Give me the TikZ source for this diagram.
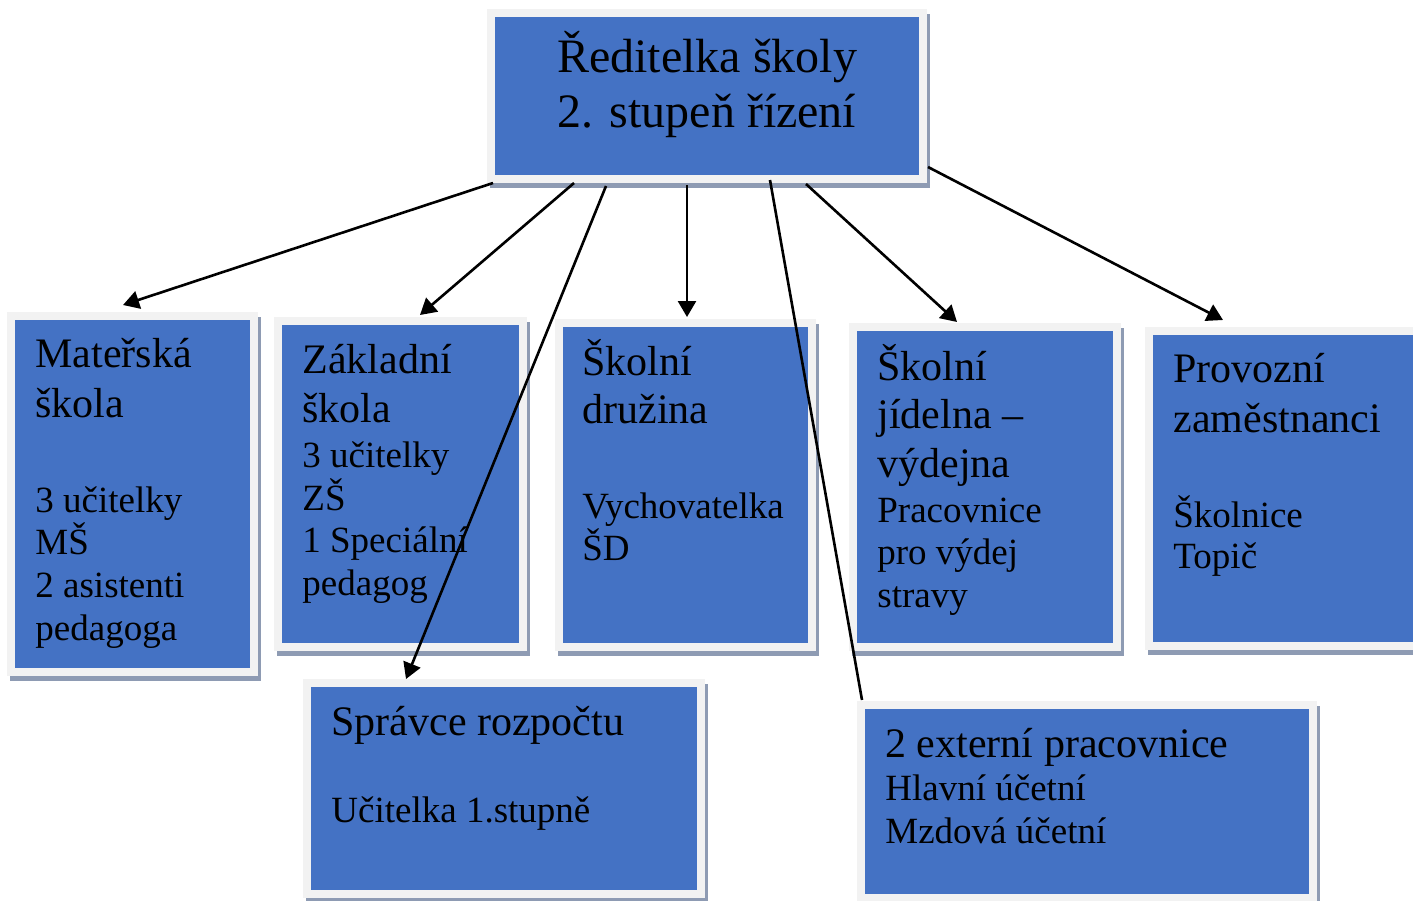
\documentclass[tikz,border=0pt]{standalone}
\usepackage{fontspec}
\setmainfont{Liberation Serif}
\usetikzlibrary{calc,arrows.meta,shadows}
\definecolor{boxblue}{HTML}{4472C4}
\definecolor{framegray}{HTML}{F2F2F2}
\definecolor{shadowgray}{HTML}{8E9BB3}
\newcommand\sm[1]{{\fontsize{18.5pt}{21.5pt}\selectfont #1}}
\begin{document}
\begin{tikzpicture}[x=0.5pt,y=-0.5pt,
  orgbox/.style={rectangle, draw=framegray, line width=4pt, fill=boxblue, inner sep=0pt, outer sep=0pt,
    general shadow={fill=shadowgray, draw=shadowgray, line width=4pt, shadow xshift=1.5pt, shadow yshift=-2.5pt}},
  lbl/.style={inner sep=0pt, align=left, anchor=base west, font=\fontsize{21pt}{25pt}\selectfont},
  arr/.style={line width=1.3pt, -{Triangle[length=8pt,width=9pt]}},
  link/.style={line width=1.3pt}]
\useasboundingbox (0,0) rectangle (1413,900);
% boxes
\node[orgbox, minimum width=216pt, minimum height=83pt] (top) at (707,96) {};
\node[orgbox, minimum width=121.5pt, minimum height=178pt] (mat) at (132.5,494) {};
\node[orgbox, minimum width=122.5pt, minimum height=163pt] (zak) at (400.5,484) {};
\node[orgbox, minimum width=126.5pt, minimum height=162pt] (dru) at (685.5,485) {};
\node[orgbox, minimum width=132pt, minimum height=160pt] (jid) at (985,487) {};
\node[orgbox, minimum width=143.5pt, minimum height=157.5pt] (pro) at (1292.5,488.5) {};
\node[orgbox, minimum width=197pt, minimum height=105.5pt] (spr) at (504,788.5) {};
\node[orgbox, minimum width=226pt, minimum height=96.5pt] (ext) at (1087,801.5) {};
% texts (anchored at the baseline of their last line)
\node[lbl, anchor=base, align=center, font=\fontsize{24pt}{27.5pt}\selectfont] (toptext) at (707,127) {Ředitelka školy\\2. stupeň řízení};
\node[lbl] (mattext) at (35,640) {Mateřská\\škola\\[22.5pt]\sm{3 učitelky}\\[-4pt]\sm{MŠ}\\[-3.5pt]\sm{2 asistenti}\\[-3.5pt]\sm{pedagoga}};
\node[lbl] (zaktext) at (302,595) {Základní\\[-0.5pt]škola\\[-2.5pt]\sm{3 učitelky}\\[-3.75pt]\sm{ZŠ}\\[-3.75pt]\sm{1 Speciální}\\[-3.75pt]\sm{pedagog}};
\node[lbl] (drutext) at (582,560) {Školní\\[-1pt]družina\\[22.5pt]\sm{Vychovatelka}\\[-4pt]\sm{ŠD}};
\node[lbl] (jidtext) at (877,607) {Školní\\[-1pt]jídelna –\\[-0.5pt]výdejna\\[-2.5pt]\sm{Pracovnice}\\[-3.75pt]\sm{pro výdej}\\[-3.75pt]\sm{stravy}};
\node[lbl] (protext) at (1173,568) {Provozní\\zaměstnanci\\[22.5pt]\sm{Školnice}\\[-4.5pt]\sm{Topič}};
\node[lbl] (sprtext) at (331,822) {Správce rozpočtu\\[18.5pt]\sm{Učitelka 1.stupně}};
\node[lbl] (exttext) at (885,843) {2 externí pracovnice\\[-3.5pt]\sm{Hlavní účetní}\\[-3.75pt]\sm{Mzdová účetní}};
% connectors
\draw[arr] ($(top.south west)+(2,4)$) -- ($(mat.north)+(-9.5,-11)$);
\draw[arr] ($(top.south west)+(83,4)$) -- ($(zak.north)+(19.5,-6)$);
\draw[arr] ($(top.south)+(-101,7)$) -- ($(spr.north)+(-98,-4)$);
\draw[arr] ($(top.south)+(-20,6)$) -- ($(dru.north)+(1.5,-6)$);
\draw[link] ($(top.south)+(63,1)$) -- ($(ext.north west)+(1,-5)$);
\draw[arr] ($(top.south)+(99,5)$) -- ($(jid.north)+(-28,-5)$);
\draw[arr] ($(top.south east)+(5,-12)$) -- ($(pro.north west)+(74,-11)$);
\end{tikzpicture}
\end{document}
